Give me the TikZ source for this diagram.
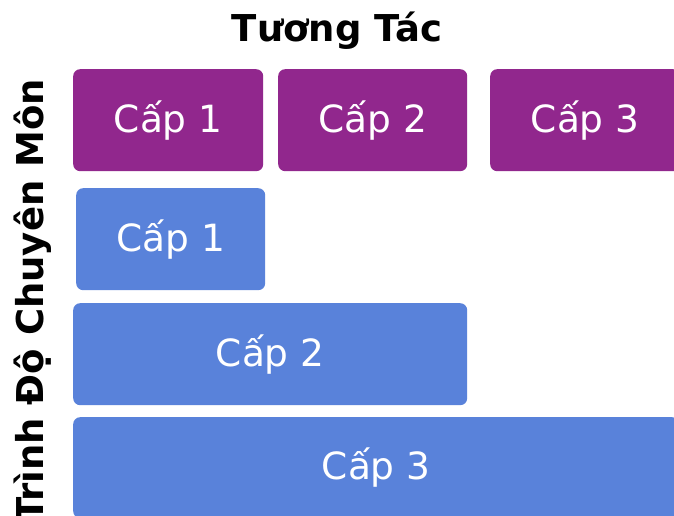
\documentclass[tikz,border=0pt]{standalone}
\usepackage{fontspec}
\setmainfont{DejaVu Sans}
\definecolor{purplebox}{HTML}{91278D}
\definecolor{bluebox}{HTML}{5982DA}
\begin{document}
\begin{tikzpicture}[x=1pt,y=-1pt,
  cell/.style={rounded corners=7pt, inner sep=0pt, text=white,
    font=\fontsize{37.5}{44}\selectfont, anchor=north west},
  pcell/.style={cell, fill=purplebox},
  bcell/.style={cell, fill=bluebox},
  heading/.style={font=\bfseries\fontsize{37}{44}\selectfont, text=black, inner sep=0pt}]
\clip (0,0) rectangle (674,516);
\fill[white] (0,0) rectangle (674,516);
\node[heading] (title) at (337,31) {Tương Tác};
\node[heading, rotate=90, anchor=base] (side) at (43,301) {Trình Độ Chuyên Môn};
\node[pcell, minimum width=190pt, minimum height=102pt] (p1) at (73,69) {Cấp 1};
\node[pcell, minimum width=189pt, minimum height=102pt] (p2) at (278,69) {Cấp 2};
\node[pcell, minimum width=190pt, minimum height=102pt] (p3) at (490,69) {Cấp 3};
\node[bcell, minimum width=189pt, minimum height=102pt] (b1) at (76,188) {Cấp 1};
\node[bcell, minimum width=394pt, minimum height=102pt] (b2) at (73,303) {Cấp 2};
\node[bcell, minimum width=606pt, minimum height=101pt] (b3) at (73,417) {Cấp 3};
\end{tikzpicture}
\end{document}
